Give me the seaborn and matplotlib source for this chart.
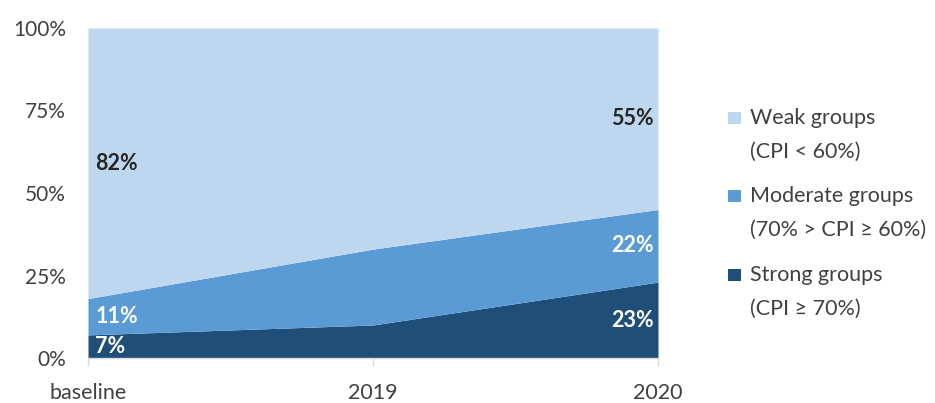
import matplotlib
matplotlib.use("Agg")
import matplotlib.pyplot as plt
from matplotlib.patches import Rectangle
import numpy as np
import seaborn as sns

periods = ["baseline", "2019", "2020"]
strong = [7, 10, 23]
moderate = [11, 23, 22]
weak = [82, 67, 55]

series_names = ["Strong groups\n(CPI \u2265 70%)",
                "Moderate groups\n(70% > CPI \u2265 60%)",
                "Weak groups\n(CPI < 60%)"]
colors = ["#1F4E79", "#5B9BD5", "#BDD7EE"]
label_colors = ["white", "white", "#262626"]

sns.set_theme(style="white")
plt.rcParams["font.family"] = ["Lato", "DejaVu Sans"]

W, H = 935, 403
fig = plt.figure(figsize=(W / 100, H / 100), dpi=100)
ax = fig.add_axes([88 / W, 1 - 358 / H, 570 / W, 330 / H])

x = np.arange(len(periods))
layers = [strong, moderate, weak]
ax.stackplot(x, *layers, colors=colors, linewidth=0)

ax.set_xlim(x[0], x[-1])
ax.set_ylim(0, 100)
ax.set_yticks([0, 25, 50, 75, 100])
ax.set_yticklabels([f"{v}%" for v in [0, 25, 50, 75, 100]])
ax.set_xticks(x)
ax.set_xticklabels(periods)
ax.tick_params(axis="y", length=0, labelsize=15, labelcolor="#404040", pad=16)
ax.tick_params(axis="x", length=6, width=1, color="#D9D9D9", labelsize=15.5,
               labelcolor="#404040", pad=12, direction="out")
ax.xaxis.set_ticks_position("bottom")
for side in ["left", "right", "top"]:
    ax.spines[side].set_visible(False)
ax.spines["bottom"].set_color("#D9D9D9")
ax.spines["bottom"].set_linewidth(1)

# value labels centred in each band at the first and last period
cum = np.zeros(len(periods))
for vals, lc in zip(layers, label_colors):
    vals = np.array(vals, dtype=float)
    mid = cum + vals / 2
    ax.text(x[0] + 0.025, mid[0], f"{vals[0]:.0f}%", ha="left", va="center",
            color=lc, fontsize=15.5, fontweight="bold")
    ax.text(x[-1] - 0.015, mid[-1], f"{vals[-1]:.0f}%", ha="right", va="center",
            color=lc, fontsize=15.5, fontweight="bold")
    cum += vals

# legend: square marker beside the first line of each two-line entry
entry_tops = [118, 196, 275]
for name, c, yc in zip(series_names[::-1], colors[::-1], entry_tops):
    fig.patches.append(Rectangle((728 / W, 1 - (yc + 6) / H), 13 / W, 12 / H,
                                 transform=fig.transFigure, facecolor=c,
                                 edgecolor="none"))
    first, second = name.split("\n")
    fig.text(750 / W, 1 - yc / H, first, ha="left", va="center",
             fontsize=15.5, color="#404040")
    fig.text(750 / W, 1 - (yc + 34) / H, second, ha="left", va="center",
             fontsize=15.5, color="#404040")

fig.savefig("out.png", dpi=100)
